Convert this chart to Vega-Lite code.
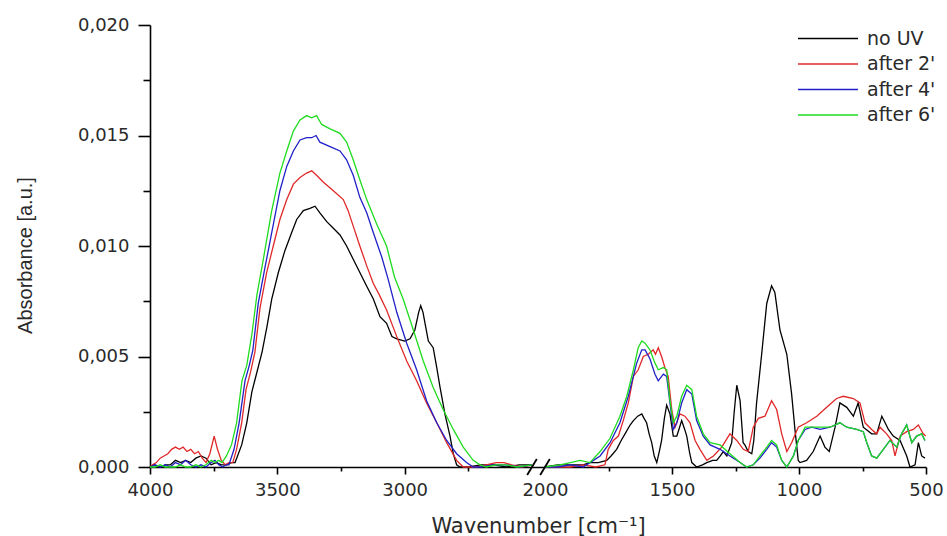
{
  "$schema": "https://vega.github.io/schema/vega-lite/v6.json",
  "width": 776,
  "height": 442,
  "autosize": {"type": "none"},
  "padding": {"left": 150, "top": 25, "right": 21, "bottom": 69},
  "background": "white",
  "config": {"view": {"stroke": null}, "axis": {"grid": false}},
  "datasets": {
    "spectra": [
      {"s":"no UV","g":"L","w":4000,"a":0},{"s":"no UV","g":"L","w":3985,"a":0.0001},{"s":"no UV","g":"L","w":3960,"a":0},{"s":"no UV","g":"L","w":3940,"a":0.0001},{"s":"no UV","g":"L","w":3920,"a":0.0001},{"s":"no UV","g":"L","w":3900,"a":0.0003},{"s":"no UV","g":"L","w":3880,"a":0.0002},{"s":"no UV","g":"L","w":3860,"a":0.0003},{"s":"no UV","g":"L","w":3840,"a":0.0002},{"s":"no UV","g":"L","w":3820,"a":0.0004},{"s":"no UV","g":"L","w":3800,"a":0.0005},{"s":"no UV","g":"L","w":3780,"a":0.0004},{"s":"no UV","g":"L","w":3760,"a":0.0001},{"s":"no UV","g":"L","w":3740,"a":0.0002},{"s":"no UV","g":"L","w":3720,"a":0.0001},{"s":"no UV","g":"L","w":3700,"a":0.0001},{"s":"no UV","g":"L","w":3680,"a":0.0002},{"s":"no UV","g":"L","w":3666,"a":0.0002},{"s":"no UV","g":"L","w":3640,"a":0.001},{"s":"no UV","g":"L","w":3620,"a":0.002},{"s":"no UV","g":"L","w":3600,"a":0.0034},{"s":"no UV","g":"L","w":3580,"a":0.0043},{"s":"no UV","g":"L","w":3560,"a":0.0052},{"s":"no UV","g":"L","w":3540,"a":0.0064},{"s":"no UV","g":"L","w":3522,"a":0.0076},{"s":"no UV","g":"L","w":3496,"a":0.0088},{"s":"no UV","g":"L","w":3470,"a":0.0098},{"s":"no UV","g":"L","w":3444,"a":0.0106},{"s":"no UV","g":"L","w":3424,"a":0.0112},{"s":"no UV","g":"L","w":3398,"a":0.0116},{"s":"no UV","g":"L","w":3372,"a":0.0117},{"s":"no UV","g":"L","w":3352,"a":0.0118},{"s":"no UV","g":"L","w":3333,"a":0.0115},{"s":"no UV","g":"L","w":3306,"a":0.0111},{"s":"no UV","g":"L","w":3280,"a":0.0108},{"s":"no UV","g":"L","w":3254,"a":0.0105},{"s":"no UV","g":"L","w":3228,"a":0.01},{"s":"no UV","g":"L","w":3202,"a":0.0094},{"s":"no UV","g":"L","w":3176,"a":0.0088},{"s":"no UV","g":"L","w":3150,"a":0.0082},{"s":"no UV","g":"L","w":3123,"a":0.0076},{"s":"no UV","g":"L","w":3097,"a":0.0068},{"s":"no UV","g":"L","w":3071,"a":0.0065},{"s":"no UV","g":"L","w":3050,"a":0.0059},{"s":"no UV","g":"L","w":3031,"a":0.0058},{"s":"no UV","g":"L","w":3000,"a":0.0057},{"s":"no UV","g":"L","w":2979,"a":0.0058},{"s":"no UV","g":"L","w":2960,"a":0.0062},{"s":"no UV","g":"L","w":2945,"a":0.007},{"s":"no UV","g":"L","w":2937,"a":0.0073},{"s":"no UV","g":"L","w":2928,"a":0.007},{"s":"no UV","g":"L","w":2920,"a":0.0065},{"s":"no UV","g":"L","w":2907,"a":0.0057},{"s":"no UV","g":"L","w":2888,"a":0.0054},{"s":"no UV","g":"L","w":2874,"a":0.0045},{"s":"no UV","g":"L","w":2861,"a":0.0036},{"s":"no UV","g":"L","w":2842,"a":0.0024},{"s":"no UV","g":"L","w":2822,"a":0.0014},{"s":"no UV","g":"L","w":2809,"a":0.0006},{"s":"no UV","g":"L","w":2796,"a":0.0001},{"s":"no UV","g":"L","w":2783,"a":0},{"s":"no UV","g":"L","w":2750,"a":0},{"s":"no UV","g":"L","w":2700,"a":0.0001},{"s":"no UV","g":"L","w":2650,"a":0.0001},{"s":"no UV","g":"L","w":2600,"a":0},{"s":"no UV","g":"L","w":2550,"a":0.0001},{"s":"no UV","g":"L","w":2500,"a":0.0001},
      {"s":"no UV","g":"R","w":2000,"a":0},{"s":"no UV","g":"R","w":1950,"a":0.0001},{"s":"no UV","g":"R","w":1900,"a":0.0001},{"s":"no UV","g":"R","w":1850,"a":0.0001},{"s":"no UV","g":"R","w":1823,"a":0.0002},{"s":"no UV","g":"R","w":1790,"a":0.0002},{"s":"no UV","g":"R","w":1757,"a":0.0003},{"s":"no UV","g":"R","w":1740,"a":0.0005},{"s":"no UV","g":"R","w":1718,"a":0.0008},{"s":"no UV","g":"R","w":1700,"a":0.0012},{"s":"no UV","g":"R","w":1685,"a":0.0015},{"s":"no UV","g":"R","w":1665,"a":0.0019},{"s":"no UV","g":"R","w":1652,"a":0.0021},{"s":"no UV","g":"R","w":1635,"a":0.0023},{"s":"no UV","g":"R","w":1619,"a":0.0024},{"s":"no UV","g":"R","w":1610,"a":0.0022},{"s":"no UV","g":"R","w":1600,"a":0.002},{"s":"no UV","g":"R","w":1590,"a":0.0015},{"s":"no UV","g":"R","w":1580,"a":0.0011},{"s":"no UV","g":"R","w":1570,"a":0.0005},{"s":"no UV","g":"R","w":1560,"a":0.0002},{"s":"no UV","g":"R","w":1550,"a":0.0007},{"s":"no UV","g":"R","w":1541,"a":0.0012},{"s":"no UV","g":"R","w":1530,"a":0.0022},{"s":"no UV","g":"R","w":1521,"a":0.0028},{"s":"no UV","g":"R","w":1508,"a":0.0024},{"s":"no UV","g":"R","w":1495,"a":0.0014},{"s":"no UV","g":"R","w":1481,"a":0.0014},{"s":"no UV","g":"R","w":1470,"a":0.0018},{"s":"no UV","g":"R","w":1462,"a":0.0021},{"s":"no UV","g":"R","w":1450,"a":0.0017},{"s":"no UV","g":"R","w":1442,"a":0.0014},{"s":"no UV","g":"R","w":1430,"a":0.0006},{"s":"no UV","g":"R","w":1422,"a":0.0002},{"s":"no UV","g":"R","w":1403,"a":0},{"s":"no UV","g":"R","w":1380,"a":0.0001},{"s":"no UV","g":"R","w":1363,"a":0.0002},{"s":"no UV","g":"R","w":1340,"a":0.0003},{"s":"no UV","g":"R","w":1324,"a":0.0003},{"s":"no UV","g":"R","w":1310,"a":0.0005},{"s":"no UV","g":"R","w":1298,"a":0.0007},{"s":"no UV","g":"R","w":1284,"a":0.0005},{"s":"no UV","g":"R","w":1265,"a":0.0011},{"s":"no UV","g":"R","w":1255,"a":0.0025},{"s":"no UV","g":"R","w":1245,"a":0.0037},{"s":"no UV","g":"R","w":1232,"a":0.003},{"s":"no UV","g":"R","w":1220,"a":0.0011},{"s":"no UV","g":"R","w":1213,"a":0.001},{"s":"no UV","g":"R","w":1200,"a":0.0007},{"s":"no UV","g":"R","w":1186,"a":0.0006},{"s":"no UV","g":"R","w":1178,"a":0.0012},{"s":"no UV","g":"R","w":1167,"a":0.0029},{"s":"no UV","g":"R","w":1147,"a":0.0051},{"s":"no UV","g":"R","w":1127,"a":0.0074},{"s":"no UV","g":"R","w":1108,"a":0.0082},{"s":"no UV","g":"R","w":1095,"a":0.0079},{"s":"no UV","g":"R","w":1075,"a":0.0062},{"s":"no UV","g":"R","w":1048,"a":0.0051},{"s":"no UV","g":"R","w":1029,"a":0.0033},{"s":"no UV","g":"R","w":1016,"a":0.0017},{"s":"no UV","g":"R","w":1003,"a":0.0003},{"s":"no UV","g":"R","w":996,"a":0.0002},{"s":"no UV","g":"R","w":970,"a":0.0003},{"s":"no UV","g":"R","w":944,"a":0.0007},{"s":"no UV","g":"R","w":917,"a":0.0014},{"s":"no UV","g":"R","w":898,"a":0.0009},{"s":"no UV","g":"R","w":881,"a":0.0007},{"s":"no UV","g":"R","w":858,"a":0.0018},{"s":"no UV","g":"R","w":839,"a":0.0029},{"s":"no UV","g":"R","w":812,"a":0.0027},{"s":"no UV","g":"R","w":786,"a":0.0023},{"s":"no UV","g":"R","w":767,"a":0.0029},{"s":"no UV","g":"R","w":747,"a":0.0018},{"s":"no UV","g":"R","w":714,"a":0.0015},{"s":"no UV","g":"R","w":694,"a":0.0015},{"s":"no UV","g":"R","w":674,"a":0.0023},{"s":"no UV","g":"R","w":661,"a":0.002},{"s":"no UV","g":"R","w":648,"a":0.0017},{"s":"no UV","g":"R","w":629,"a":0.0014},{"s":"no UV","g":"R","w":602,"a":0.0012},{"s":"no UV","g":"R","w":576,"a":0.0005},{"s":"no UV","g":"R","w":563,"a":0},{"s":"no UV","g":"R","w":543,"a":0.0001},{"s":"no UV","g":"R","w":530,"a":0.0011},{"s":"no UV","g":"R","w":517,"a":0.0005},{"s":"no UV","g":"R","w":504,"a":0.0004},
      {"s":"after 2'","g":"L","w":4000,"a":0},{"s":"after 2'","g":"L","w":3990,"a":0.0001},{"s":"after 2'","g":"L","w":3975,"a":0.0002},{"s":"after 2'","g":"L","w":3960,"a":0.0004},{"s":"after 2'","g":"L","w":3945,"a":0.0005},{"s":"after 2'","g":"L","w":3930,"a":0.0006},{"s":"after 2'","g":"L","w":3915,"a":0.0008},{"s":"after 2'","g":"L","w":3900,"a":0.0009},{"s":"after 2'","g":"L","w":3885,"a":0.0008},{"s":"after 2'","g":"L","w":3870,"a":0.0009},{"s":"after 2'","g":"L","w":3855,"a":0.0007},{"s":"after 2'","g":"L","w":3840,"a":0.0008},{"s":"after 2'","g":"L","w":3825,"a":0.0006},{"s":"after 2'","g":"L","w":3810,"a":0.0007},{"s":"after 2'","g":"L","w":3795,"a":0.0004},{"s":"after 2'","g":"L","w":3780,"a":0.0002},{"s":"after 2'","g":"L","w":3765,"a":0.0006},{"s":"after 2'","g":"L","w":3748,"a":0.0014},{"s":"after 2'","g":"L","w":3735,"a":0.0008},{"s":"after 2'","g":"L","w":3720,"a":0.0003},{"s":"after 2'","g":"L","w":3705,"a":0.0001},{"s":"after 2'","g":"L","w":3690,"a":0.0002},{"s":"after 2'","g":"L","w":3675,"a":0.0002},{"s":"after 2'","g":"L","w":3660,"a":0.0008},{"s":"after 2'","g":"L","w":3640,"a":0.002},{"s":"after 2'","g":"L","w":3623,"a":0.0035},{"s":"after 2'","g":"L","w":3605,"a":0.0043},{"s":"after 2'","g":"L","w":3588,"a":0.0052},{"s":"after 2'","g":"L","w":3568,"a":0.0072},{"s":"after 2'","g":"L","w":3542,"a":0.0088},{"s":"after 2'","g":"L","w":3516,"a":0.01},{"s":"after 2'","g":"L","w":3490,"a":0.0112},{"s":"after 2'","g":"L","w":3463,"a":0.0121},{"s":"after 2'","g":"L","w":3437,"a":0.0128},{"s":"after 2'","g":"L","w":3411,"a":0.0131},{"s":"after 2'","g":"L","w":3385,"a":0.0133},{"s":"after 2'","g":"L","w":3365,"a":0.0134},{"s":"after 2'","g":"L","w":3346,"a":0.0132},{"s":"after 2'","g":"L","w":3320,"a":0.0129},{"s":"after 2'","g":"L","w":3280,"a":0.0125},{"s":"after 2'","g":"L","w":3241,"a":0.0121},{"s":"after 2'","g":"L","w":3222,"a":0.0116},{"s":"after 2'","g":"L","w":3202,"a":0.0109},{"s":"after 2'","g":"L","w":3176,"a":0.01},{"s":"after 2'","g":"L","w":3149,"a":0.0091},{"s":"after 2'","g":"L","w":3123,"a":0.0083},{"s":"after 2'","g":"L","w":3100,"a":0.0078},{"s":"after 2'","g":"L","w":3071,"a":0.0071},{"s":"after 2'","g":"L","w":3031,"a":0.0059},{"s":"after 2'","g":"L","w":2992,"a":0.0048},{"s":"after 2'","g":"L","w":2953,"a":0.0039},{"s":"after 2'","g":"L","w":2914,"a":0.0029},{"s":"after 2'","g":"L","w":2874,"a":0.002},{"s":"after 2'","g":"L","w":2835,"a":0.0011},{"s":"after 2'","g":"L","w":2796,"a":0.0003},{"s":"after 2'","g":"L","w":2770,"a":0},{"s":"after 2'","g":"L","w":2720,"a":0},{"s":"after 2'","g":"L","w":2680,"a":0.0001},{"s":"after 2'","g":"L","w":2640,"a":0.0002},{"s":"after 2'","g":"L","w":2610,"a":0.0002},{"s":"after 2'","g":"L","w":2580,"a":0.0001},{"s":"after 2'","g":"L","w":2540,"a":0},{"s":"after 2'","g":"L","w":2500,"a":0.0001},
      {"s":"after 2'","g":"R","w":2000,"a":0},{"s":"after 2'","g":"R","w":1950,"a":0},{"s":"after 2'","g":"R","w":1900,"a":0},{"s":"after 2'","g":"R","w":1849,"a":0.0001},{"s":"after 2'","g":"R","w":1800,"a":0},{"s":"after 2'","g":"R","w":1764,"a":0.0001},{"s":"after 2'","g":"R","w":1751,"a":0.0008},{"s":"after 2'","g":"R","w":1731,"a":0.0012},{"s":"after 2'","g":"R","w":1711,"a":0.0014},{"s":"after 2'","g":"R","w":1692,"a":0.0021},{"s":"after 2'","g":"R","w":1672,"a":0.0029},{"s":"after 2'","g":"R","w":1652,"a":0.0041},{"s":"after 2'","g":"R","w":1633,"a":0.0044},{"s":"after 2'","g":"R","w":1613,"a":0.005},{"s":"after 2'","g":"R","w":1593,"a":0.0051},{"s":"after 2'","g":"R","w":1574,"a":0.0053},{"s":"after 2'","g":"R","w":1565,"a":0.0051},{"s":"after 2'","g":"R","w":1554,"a":0.0054},{"s":"after 2'","g":"R","w":1541,"a":0.005},{"s":"after 2'","g":"R","w":1528,"a":0.0045},{"s":"after 2'","g":"R","w":1515,"a":0.0041},{"s":"after 2'","g":"R","w":1501,"a":0.0026},{"s":"after 2'","g":"R","w":1488,"a":0.0018},{"s":"after 2'","g":"R","w":1469,"a":0.0024},{"s":"after 2'","g":"R","w":1449,"a":0.0023},{"s":"after 2'","g":"R","w":1429,"a":0.002},{"s":"after 2'","g":"R","w":1409,"a":0.0012},{"s":"after 2'","g":"R","w":1390,"a":0.0008},{"s":"after 2'","g":"R","w":1363,"a":0.0003},{"s":"after 2'","g":"R","w":1337,"a":0.0005},{"s":"after 2'","g":"R","w":1304,"a":0.0009},{"s":"after 2'","g":"R","w":1272,"a":0.0015},{"s":"after 2'","g":"R","w":1245,"a":0.0012},{"s":"after 2'","g":"R","w":1219,"a":0.0008},{"s":"after 2'","g":"R","w":1200,"a":0.0007},{"s":"after 2'","g":"R","w":1180,"a":0.0018},{"s":"after 2'","g":"R","w":1160,"a":0.0022},{"s":"after 2'","g":"R","w":1134,"a":0.0023},{"s":"after 2'","g":"R","w":1108,"a":0.003},{"s":"after 2'","g":"R","w":1088,"a":0.0026},{"s":"after 2'","g":"R","w":1068,"a":0.0015},{"s":"after 2'","g":"R","w":1048,"a":0.0007},{"s":"after 2'","g":"R","w":1029,"a":0.0011},{"s":"after 2'","g":"R","w":1003,"a":0.0018},{"s":"after 2'","g":"R","w":970,"a":0.002},{"s":"after 2'","g":"R","w":930,"a":0.0023},{"s":"after 2'","g":"R","w":891,"a":0.0027},{"s":"after 2'","g":"R","w":852,"a":0.0031},{"s":"after 2'","g":"R","w":826,"a":0.0032},{"s":"after 2'","g":"R","w":786,"a":0.0031},{"s":"after 2'","g":"R","w":760,"a":0.0029},{"s":"after 2'","g":"R","w":740,"a":0.002},{"s":"after 2'","g":"R","w":714,"a":0.0017},{"s":"after 2'","g":"R","w":694,"a":0.0015},{"s":"after 2'","g":"R","w":681,"a":0.0018},{"s":"after 2'","g":"R","w":655,"a":0.0015},{"s":"after 2'","g":"R","w":635,"a":0.0012},{"s":"after 2'","g":"R","w":622,"a":0.0005},{"s":"after 2'","g":"R","w":602,"a":0.0014},{"s":"after 2'","g":"R","w":576,"a":0.0016},{"s":"after 2'","g":"R","w":550,"a":0.0017},{"s":"after 2'","g":"R","w":530,"a":0.0019},{"s":"after 2'","g":"R","w":511,"a":0.0015},{"s":"after 2'","g":"R","w":501,"a":0.0014},
      {"s":"after 4'","g":"L","w":4000,"a":0},{"s":"after 4'","g":"L","w":3980,"a":0.0001},{"s":"after 4'","g":"L","w":3960,"a":0},{"s":"after 4'","g":"L","w":3940,"a":0.0001},{"s":"after 4'","g":"L","w":3920,"a":0},{"s":"after 4'","g":"L","w":3900,"a":0.0002},{"s":"after 4'","g":"L","w":3880,"a":0.0001},{"s":"after 4'","g":"L","w":3860,"a":0.0003},{"s":"after 4'","g":"L","w":3840,"a":0.0001},{"s":"after 4'","g":"L","w":3820,"a":0},{"s":"after 4'","g":"L","w":3800,"a":0.0001},{"s":"after 4'","g":"L","w":3780,"a":0},{"s":"after 4'","g":"L","w":3760,"a":0.0002},{"s":"after 4'","g":"L","w":3745,"a":0.0003},{"s":"after 4'","g":"L","w":3730,"a":0.0001},{"s":"after 4'","g":"L","w":3715,"a":0},{"s":"after 4'","g":"L","w":3700,"a":0.0001},{"s":"after 4'","g":"L","w":3690,"a":0.0001},{"s":"after 4'","g":"L","w":3670,"a":0.0008},{"s":"after 4'","g":"L","w":3650,"a":0.002},{"s":"after 4'","g":"L","w":3627,"a":0.0039},{"s":"after 4'","g":"L","w":3610,"a":0.0046},{"s":"after 4'","g":"L","w":3596,"a":0.0053},{"s":"after 4'","g":"L","w":3575,"a":0.0074},{"s":"after 4'","g":"L","w":3549,"a":0.009},{"s":"after 4'","g":"L","w":3522,"a":0.0106},{"s":"after 4'","g":"L","w":3490,"a":0.0125},{"s":"after 4'","g":"L","w":3463,"a":0.0136},{"s":"after 4'","g":"L","w":3437,"a":0.0143},{"s":"after 4'","g":"L","w":3411,"a":0.0148},{"s":"after 4'","g":"L","w":3385,"a":0.0149},{"s":"after 4'","g":"L","w":3365,"a":0.0149},{"s":"after 4'","g":"L","w":3348,"a":0.015},{"s":"after 4'","g":"L","w":3333,"a":0.0147},{"s":"after 4'","g":"L","w":3293,"a":0.0145},{"s":"after 4'","g":"L","w":3254,"a":0.0143},{"s":"after 4'","g":"L","w":3228,"a":0.0139},{"s":"after 4'","g":"L","w":3202,"a":0.0132},{"s":"after 4'","g":"L","w":3176,"a":0.0122},{"s":"after 4'","g":"L","w":3149,"a":0.0115},{"s":"after 4'","g":"L","w":3123,"a":0.0106},{"s":"after 4'","g":"L","w":3090,"a":0.0095},{"s":"after 4'","g":"L","w":3065,"a":0.0085},{"s":"after 4'","g":"L","w":3031,"a":0.007},{"s":"after 4'","g":"L","w":2992,"a":0.0056},{"s":"after 4'","g":"L","w":2953,"a":0.0044},{"s":"after 4'","g":"L","w":2914,"a":0.003},{"s":"after 4'","g":"L","w":2874,"a":0.002},{"s":"after 4'","g":"L","w":2835,"a":0.0012},{"s":"after 4'","g":"L","w":2796,"a":0.0006},{"s":"after 4'","g":"L","w":2757,"a":0.0002},{"s":"after 4'","g":"L","w":2731,"a":0},{"s":"after 4'","g":"L","w":2700,"a":0},{"s":"after 4'","g":"L","w":2650,"a":0.0001},{"s":"after 4'","g":"L","w":2600,"a":0.0001},{"s":"after 4'","g":"L","w":2550,"a":0},{"s":"after 4'","g":"L","w":2500,"a":0.0001},
      {"s":"after 4'","g":"R","w":2000,"a":0},{"s":"after 4'","g":"R","w":1950,"a":0},{"s":"after 4'","g":"R","w":1900,"a":0.0001},{"s":"after 4'","g":"R","w":1850,"a":0},{"s":"after 4'","g":"R","w":1823,"a":0.0002},{"s":"after 4'","g":"R","w":1783,"a":0.0005},{"s":"after 4'","g":"R","w":1744,"a":0.0011},{"s":"after 4'","g":"R","w":1705,"a":0.002},{"s":"after 4'","g":"R","w":1672,"a":0.0032},{"s":"after 4'","g":"R","w":1639,"a":0.0047},{"s":"after 4'","g":"R","w":1619,"a":0.0053},{"s":"after 4'","g":"R","w":1606,"a":0.0053},{"s":"after 4'","g":"R","w":1587,"a":0.0049},{"s":"after 4'","g":"R","w":1567,"a":0.0042},{"s":"after 4'","g":"R","w":1554,"a":0.0039},{"s":"after 4'","g":"R","w":1534,"a":0.0042},{"s":"after 4'","g":"R","w":1521,"a":0.0041},{"s":"after 4'","g":"R","w":1508,"a":0.0029},{"s":"after 4'","g":"R","w":1495,"a":0.0017},{"s":"after 4'","g":"R","w":1481,"a":0.002},{"s":"after 4'","g":"R","w":1462,"a":0.0029},{"s":"after 4'","g":"R","w":1442,"a":0.0035},{"s":"after 4'","g":"R","w":1422,"a":0.0033},{"s":"after 4'","g":"R","w":1403,"a":0.0021},{"s":"after 4'","g":"R","w":1377,"a":0.0014},{"s":"after 4'","g":"R","w":1350,"a":0.001},{"s":"after 4'","g":"R","w":1311,"a":0.0008},{"s":"after 4'","g":"R","w":1272,"a":0.0005},{"s":"after 4'","g":"R","w":1232,"a":0.0002},{"s":"after 4'","g":"R","w":1206,"a":0},{"s":"after 4'","g":"R","w":1180,"a":0.0001},{"s":"after 4'","g":"R","w":1154,"a":0.0004},{"s":"after 4'","g":"R","w":1127,"a":0.0008},{"s":"after 4'","g":"R","w":1108,"a":0.0011},{"s":"after 4'","g":"R","w":1088,"a":0.0009},{"s":"after 4'","g":"R","w":1068,"a":0.0003},{"s":"after 4'","g":"R","w":1048,"a":0},{"s":"after 4'","g":"R","w":1022,"a":0.0005},{"s":"after 4'","g":"R","w":1003,"a":0.0012},{"s":"after 4'","g":"R","w":976,"a":0.0017},{"s":"after 4'","g":"R","w":950,"a":0.0018},{"s":"after 4'","g":"R","w":917,"a":0.0017},{"s":"after 4'","g":"R","w":878,"a":0.0018},{"s":"after 4'","g":"R","w":839,"a":0.002},{"s":"after 4'","g":"R","w":812,"a":0.0018},{"s":"after 4'","g":"R","w":773,"a":0.0017},{"s":"after 4'","g":"R","w":747,"a":0.0016},{"s":"after 4'","g":"R","w":733,"a":0.0011},{"s":"after 4'","g":"R","w":714,"a":0.0005},{"s":"after 4'","g":"R","w":694,"a":0.0004},{"s":"after 4'","g":"R","w":668,"a":0.0008},{"s":"after 4'","g":"R","w":642,"a":0.0012},{"s":"after 4'","g":"R","w":615,"a":0.0009},{"s":"after 4'","g":"R","w":596,"a":0.0015},{"s":"after 4'","g":"R","w":576,"a":0.0019},{"s":"after 4'","g":"R","w":556,"a":0.0011},{"s":"after 4'","g":"R","w":537,"a":0.0014},{"s":"after 4'","g":"R","w":517,"a":0.0015},{"s":"after 4'","g":"R","w":504,"a":0.0012},
      {"s":"after 6'","g":"L","w":4000,"a":0},{"s":"after 6'","g":"L","w":3980,"a":0},{"s":"after 6'","g":"L","w":3960,"a":0.0001},{"s":"after 6'","g":"L","w":3940,"a":0},{"s":"after 6'","g":"L","w":3920,"a":0},{"s":"after 6'","g":"L","w":3900,"a":0},{"s":"after 6'","g":"L","w":3880,"a":0.0001},{"s":"after 6'","g":"L","w":3860,"a":0},{"s":"after 6'","g":"L","w":3840,"a":0},{"s":"after 6'","g":"L","w":3820,"a":0.0001},{"s":"after 6'","g":"L","w":3800,"a":0},{"s":"after 6'","g":"L","w":3780,"a":0.0001},{"s":"after 6'","g":"L","w":3760,"a":0.0003},{"s":"after 6'","g":"L","w":3745,"a":0.0002},{"s":"after 6'","g":"L","w":3730,"a":0.0003},{"s":"after 6'","g":"L","w":3717,"a":0.0002},{"s":"after 6'","g":"L","w":3700,"a":0.0005},{"s":"after 6'","g":"L","w":3680,"a":0.001},{"s":"after 6'","g":"L","w":3660,"a":0.002},{"s":"after 6'","g":"L","w":3639,"a":0.0039},{"s":"after 6'","g":"L","w":3620,"a":0.0046},{"s":"after 6'","g":"L","w":3600,"a":0.006},{"s":"after 6'","g":"L","w":3580,"a":0.0078},{"s":"after 6'","g":"L","w":3555,"a":0.0094},{"s":"after 6'","g":"L","w":3522,"a":0.0116},{"s":"after 6'","g":"L","w":3490,"a":0.0133},{"s":"after 6'","g":"L","w":3463,"a":0.0143},{"s":"after 6'","g":"L","w":3437,"a":0.0152},{"s":"after 6'","g":"L","w":3411,"a":0.0157},{"s":"after 6'","g":"L","w":3385,"a":0.0159},{"s":"after 6'","g":"L","w":3365,"a":0.0158},{"s":"after 6'","g":"L","w":3346,"a":0.0159},{"s":"after 6'","g":"L","w":3326,"a":0.0155},{"s":"after 6'","g":"L","w":3293,"a":0.0153},{"s":"after 6'","g":"L","w":3254,"a":0.0151},{"s":"after 6'","g":"L","w":3228,"a":0.0147},{"s":"after 6'","g":"L","w":3202,"a":0.0139},{"s":"after 6'","g":"L","w":3176,"a":0.013},{"s":"after 6'","g":"L","w":3149,"a":0.0121},{"s":"after 6'","g":"L","w":3110,"a":0.011},{"s":"after 6'","g":"L","w":3071,"a":0.01},{"s":"after 6'","g":"L","w":3040,"a":0.0086},{"s":"after 6'","g":"L","w":3006,"a":0.0076},{"s":"after 6'","g":"L","w":2966,"a":0.0062},{"s":"after 6'","g":"L","w":2927,"a":0.0048},{"s":"after 6'","g":"L","w":2888,"a":0.0036},{"s":"after 6'","g":"L","w":2849,"a":0.0026},{"s":"after 6'","g":"L","w":2809,"a":0.0017},{"s":"after 6'","g":"L","w":2770,"a":0.0009},{"s":"after 6'","g":"L","w":2731,"a":0.0003},{"s":"after 6'","g":"L","w":2704,"a":0.0001},{"s":"after 6'","g":"L","w":2680,"a":0},{"s":"after 6'","g":"L","w":2640,"a":0.0001},{"s":"after 6'","g":"L","w":2600,"a":0.0001},{"s":"after 6'","g":"L","w":2560,"a":0},{"s":"after 6'","g":"L","w":2500,"a":0.0001},
      {"s":"after 6'","g":"R","w":2000,"a":0},{"s":"after 6'","g":"R","w":1941,"a":0.0001},{"s":"after 6'","g":"R","w":1900,"a":0.0002},{"s":"after 6'","g":"R","w":1862,"a":0.0003},{"s":"after 6'","g":"R","w":1823,"a":0.0002},{"s":"after 6'","g":"R","w":1783,"a":0.0007},{"s":"after 6'","g":"R","w":1744,"a":0.0013},{"s":"after 6'","g":"R","w":1705,"a":0.0023},{"s":"after 6'","g":"R","w":1678,"a":0.0032},{"s":"after 6'","g":"R","w":1652,"a":0.0044},{"s":"after 6'","g":"R","w":1633,"a":0.0054},{"s":"after 6'","g":"R","w":1619,"a":0.0057},{"s":"after 6'","g":"R","w":1606,"a":0.0056},{"s":"after 6'","g":"R","w":1587,"a":0.0053},{"s":"after 6'","g":"R","w":1567,"a":0.0047},{"s":"after 6'","g":"R","w":1554,"a":0.0044},{"s":"after 6'","g":"R","w":1534,"a":0.0045},{"s":"after 6'","g":"R","w":1521,"a":0.0044},{"s":"after 6'","g":"R","w":1508,"a":0.003},{"s":"after 6'","g":"R","w":1495,"a":0.002},{"s":"after 6'","g":"R","w":1481,"a":0.0023},{"s":"after 6'","g":"R","w":1462,"a":0.0032},{"s":"after 6'","g":"R","w":1442,"a":0.0037},{"s":"after 6'","g":"R","w":1422,"a":0.0035},{"s":"after 6'","g":"R","w":1403,"a":0.0023},{"s":"after 6'","g":"R","w":1377,"a":0.0015},{"s":"after 6'","g":"R","w":1350,"a":0.0011},{"s":"after 6'","g":"R","w":1311,"a":0.001},{"s":"after 6'","g":"R","w":1272,"a":0.0006},{"s":"after 6'","g":"R","w":1232,"a":0.0002},{"s":"after 6'","g":"R","w":1206,"a":0},{"s":"after 6'","g":"R","w":1180,"a":0.0001},{"s":"after 6'","g":"R","w":1154,"a":0.0005},{"s":"after 6'","g":"R","w":1127,"a":0.0009},{"s":"after 6'","g":"R","w":1108,"a":0.0012},{"s":"after 6'","g":"R","w":1088,"a":0.001},{"s":"after 6'","g":"R","w":1068,"a":0.0003},{"s":"after 6'","g":"R","w":1048,"a":0},{"s":"after 6'","g":"R","w":1022,"a":0.0005},{"s":"after 6'","g":"R","w":1003,"a":0.0012},{"s":"after 6'","g":"R","w":976,"a":0.0018},{"s":"after 6'","g":"R","w":950,"a":0.0018},{"s":"after 6'","g":"R","w":917,"a":0.0018},{"s":"after 6'","g":"R","w":878,"a":0.0018},{"s":"after 6'","g":"R","w":839,"a":0.002},{"s":"after 6'","g":"R","w":812,"a":0.0018},{"s":"after 6'","g":"R","w":773,"a":0.0017},{"s":"after 6'","g":"R","w":747,"a":0.0016},{"s":"after 6'","g":"R","w":733,"a":0.0011},{"s":"after 6'","g":"R","w":714,"a":0.0005},{"s":"after 6'","g":"R","w":694,"a":0.0004},{"s":"after 6'","g":"R","w":668,"a":0.0008},{"s":"after 6'","g":"R","w":642,"a":0.0012},{"s":"after 6'","g":"R","w":615,"a":0.0009},{"s":"after 6'","g":"R","w":596,"a":0.0015},{"s":"after 6'","g":"R","w":576,"a":0.0019},{"s":"after 6'","g":"R","w":556,"a":0.0011},{"s":"after 6'","g":"R","w":537,"a":0.0014},{"s":"after 6'","g":"R","w":517,"a":0.0015},{"s":"after 6'","g":"R","w":504,"a":0.0012}
    ],
    "breaks": [{"b": 2500}, {"b": 2000}]
  },
  "layer": [
    {
      "data": {"name": "spectra"},
      "mark": {"type": "line", "strokeWidth": 1.3, "clip": false},
      "encoding": {
        "x": {
          "field": "w", "type": "quantitative",
          "scale": {"domain": [4000, 2500, 2000, 500], "range": [0, 382, 395, 776], "zero": false, "nice": false},
          "axis": {
            "title": "Wavenumber [cm⁻¹]",
            "values": [4000, 3750, 3500, 3250, 3000, 2750, 2000, 1750, 1500, 1250, 1000, 750, 500],
            "format": "d",
            "labelExpr": "datum.value % 500 === 0 ? datum.label : ''",
            "labelFlush": false, "labelOverlap": false,
            "labelFont": "DejaVu Sans", "labelFontSize": 18, "labelColor": "#2a2a2a", "labelPadding": 7,
            "domainColor": "#000", "domainWidth": 1.6,
            "tickColor": "#000", "tickWidth": 1.6,
            "tickSize": {"condition": {"test": "datum.value % 500 === 0", "value": 7}, "value": 4},
            "tickOpacity": {"condition": {"test": "datum.value === 2000", "value": 0}, "value": 1},
            "titleFont": "DejaVu Sans", "titleFontSize": 21, "titleFontWeight": "normal", "titleColor": "#2a2a2a",
            "titleX": 388, "titleY": 59, "titleBaseline": "middle", "titleAlign": "center"
          }
        },
        "y": {
          "field": "a", "type": "quantitative",
          "scale": {"domain": [0, 0.02], "nice": false, "zero": false},
          "axis": {
            "title": "Absorbance [a.u.]",
            "values": [0, 0.0025, 0.005, 0.0075, 0.01, 0.0125, 0.015, 0.0175, 0.02],
            "labelExpr": "round(datum.value * 10000) % 50 === 0 ? replace(format(datum.value, '.3f'), '.', ',') : ''",
            "labelOverlap": false, "labelFlush": false,
            "labelFont": "DejaVu Sans", "labelFontSize": 18, "labelColor": "#2a2a2a", "labelPadding": 9,
            "domainColor": "#000", "domainWidth": 1.6,
            "tickColor": "#000", "tickWidth": 1.6,
            "tickSize": {"condition": {"test": "round(datum.value * 10000) % 50 === 0", "value": 12}, "value": 7},
            "titleFont": "Liberation Sans", "titleFontSize": 20, "titleFontWeight": "normal", "titleColor": "#2a2a2a",
            "titleX": -125, "titleY": 230, "titleBaseline": "middle", "titleAlign": "center", "titleAngle": -90
          }
        },
        "color": {
          "field": "s", "type": "nominal",
          "scale": {"domain": ["no UV", "after 2'", "after 4'", "after 6'"], "range": ["#000000", "#e02828", "#2020c8", "#1fdc1f"]},
          "legend": {
            "title": null, "orient": "none", "legendX": 647, "legendY": 1,
            "symbolType": "stroke", "symbolSize": 3600, "symbolStrokeWidth": 1.3,
            "clipHeight": 25, "rowPadding": 0.5, "padding": 0,
            "labelFont": "DejaVu Sans", "labelFontSize": 19, "labelColor": "#2a2a2a", "labelOffset": 8, "labelLimit": 0
          }
        },
        "detail": {"field": "g"}
      }
    },
    {
      "data": {"name": "breaks"},
      "mark": {"type": "point", "shape": "M-0.6,1L0.6,-1", "size": 256, "filled": false, "stroke": "#000", "strokeWidth": 1.8, "opacity": 1, "clip": false},
      "encoding": {
        "x": {"field": "b", "type": "quantitative"},
        "y": {"datum": 0}
      }
    }
  ]
}
